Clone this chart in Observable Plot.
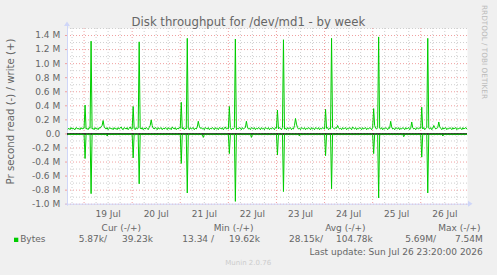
<!DOCTYPE html>
<html><head><meta charset="utf-8">
<script src="https://cdn.jsdelivr.net/npm/d3@7"></script>
<script src="https://cdn.jsdelivr.net/npm/@observablehq/plot@0.6"></script>
<style>
html,body{margin:0;padding:0;background:#f0f0f0;}
#chart{position:relative;width:497px;height:275px;overflow:hidden;background:#f0f0f0;}
#chart svg{position:absolute;left:0;top:0;}
</style></head><body><div id="chart"></div>
<script>
// ---- data (values in hundredths of M bytes/s, 30-minute steps) ----
const seriesStart = "2026-07-18T16:00:00Z";
const stepMinutes = 30;
const domainStart = "2026-07-18T15:44:00Z";
const domainEnd = "2026-07-26T23:20:00Z";

const writeCMB = [
  7,8,6,9,7,8,7,6,9,8,7,8,6,9,7,8,
  8,41,7,8,6,9,8,132, 7,8,6,9,7,8,6,9, 8,10,12,19,11,8,7,9, 6,8,9,7,8,6,9,7, 8,6,9,7,8,10,7,6, 9,8,7,9,6,8,10,7,
  7,39,8,6,9,7,8,131, 8,7,9,6,8,7,9,8, 6,9,12,20,12,8,7,9, 8,6,9,7,8,9,6,8, 7,9,8,6,9,7,8,6, 10,8,7,9,6,8,7,9,
  8,45,7,9,6,8,7,136, 8,6,9,7,8,9,6,8, 7,10,18,11,8,9,7,8, 6,9,8,7,9,6,8,7, 9,8,6,9,7,8,6,9, 8,7,9,6,8,10,7,8,
  7,39,9,6,8,7,9,135, 6,8,7,9,8,6,9,7, 8,9,18,10,7,8,6,9, 8,7,9,6,8,7,9,8, 6,9,7,8,6,9,8,7, 9,6,8,7,9,8,6,9,
  8,34,7,9,8,6,9,134, 7,8,6,9,7,8,9,6, 8,7,12,22,14,9,7,8, 6,9,8,7,9,6,8,7, 9,8,6,9,7,8,6,9, 8,7,9,6,8,7,9,8,
  7,35,8,9,6,8,7,136, 9,8,7,9,8,12,9,7, 8,6,9,7,8,9,6,8, 7,9,8,6,10,8,7,9, 6,8,7,9,8,6,9,7, 8,9,6,8,7,9,8,6,
  9,36,12,8,7,9,138,8, 7,9,6,8,7,9,8,6, 9,8,18,10,7,8,6,9, 8,7,9,6,8,7,9,8, 6,9,7,8,9,6,8,17, 9,7,8,6,9,8,7,9,
  8,38,7,9,6,8,9,136, 8,7,9,6,8,12,9,7, 8,9,17,10,8,6,9,7, 8,9,6,8,7,9,8,6, 9,7,8,9,6,8,7,9, 8,6,9,7,8,9,7
];
const readCMB = [
  1,0,1,1,0,1,1,0,1,1,0,1,1,0,1,1,
  1,35,1,0,1,1,0,85, 1,1,0,1,1,0,1,1, 0,1,1,0,1,1,0,3, 1,0,1,1,0,1,1,0, 1,1,0,1,1,0,1,1, 0,1,1,0,1,1,0,1,
  1,34,0,1,1,0,1,71, 1,0,1,1,0,1,1,0, 1,1,0,1,1,0,1,1, 0,1,1,0,1,1,0,1, 1,0,1,1,0,1,1,0, 1,1,0,1,1,0,1,1,
  0,42,1,1,0,1,1,84, 0,1,1,0,1,1,0,1, 1,0,1,1,0,1,1,5, 1,0,1,1,0,1,1,0, 1,1,0,1,1,0,1,1, 0,1,1,0,1,1,0,1,
  1,28,1,0,1,1,0,96, 1,1,0,1,1,0,1,1, 0,1,1,0,1,1,0,5, 1,1,0,1,1,0,1,1, 0,1,1,0,1,1,0,1, 1,0,1,1,0,1,1,0,
  1,30,0,1,1,0,1,82, 1,0,1,1,0,1,1,0, 1,1,0,1,1,0,1,3, 0,1,1,0,1,1,0,1, 1,0,1,1,0,1,1,0, 1,1,0,1,1,0,1,1,
  0,31,1,1,0,1,1,78, 0,1,1,0,1,1,0,1, 1,0,1,1,0,1,1,0, 1,1,0,1,1,0,1,1, 0,1,1,0,1,1,0,1, 1,0,1,1,0,1,1,0,
  1,28,1,0,1,1,91,1, 1,0,1,1,0,1,1,0, 1,1,0,1,1,0,1,1, 0,1,1,0,1,1,0,4, 1,0,1,1,0,1,1,0, 1,1,0,1,1,0,1,1,
  1,33,0,1,1,0,1,84, 1,0,1,1,0,1,1,0, 1,1,0,1,1,0,3,1, 0,1,1,0,1,1,0,1, 1,0,1,1,0,1,1,0, 1,1,0,1,1,0,1
];

const yTicksM = [-1.0,-0.8,-0.6,-0.4,-0.2,0.0,0.2,0.4,0.6,0.8,1.0,1.2,1.4];
const yTickLabels = ["-1.0 M","-0.8 M","-0.6 M","-0.4 M","-0.2 M","0.0","0.2 M","0.4 M","0.6 M","0.8 M","1.0 M","1.2 M","1.4 M"];
const yMinorM = [-0.9,-0.7,-0.5,-0.3,-0.1,0.1,0.3,0.5,0.7,0.9,1.1,1.3,1.5];
const dayStarts = ["2026-07-19","2026-07-20","2026-07-21","2026-07-22","2026-07-23","2026-07-24","2026-07-25","2026-07-26"];
const dayLabels = ["19 Jul","20 Jul","21 Jul","22 Jul","23 Jul","24 Jul","25 Jul","26 Jul"];

const legendHeaders = ["Cur (-/+)","Min (-/+)","Avg (-/+)","Max (-/+)"];
const legendName = "Bytes";
const legendValues = ["5.87k/","39.23k","13.34 /","19.62k","28.15k/","104.78k","5.69M/","7.54M"];
const titleText = "Disk throughput for /dev/md1 - by week";
const yAxisTitle = "Pr second read (-) / write (+)";
const lastUpdate = "Last update: Sun Jul 26 23:20:00 2026";
const footer = "Munin 2.0.76";
const watermark = "RRDTOOL / TOBI OETIKER";

// ---- build ----
const t0 = new Date(seriesStart).getTime();
const rows = writeCMB.map((w, i) => ({
  t: new Date(t0 + i * stepMinutes * 60000),
  w: w / 100,
  r: -(readCMB[i] ?? 0) / 100
}));
const dayDates = dayStarts.map(d => new Date(d + "T00:00:00Z"));
const noonDates = dayDates.map(d => new Date(d.getTime() + 12 * 3600000));
const x0 = new Date(domainStart), x1 = new Date(domainEnd);
const minorX = d3.utcHour.every(6).range(x0, x1).filter(d => d.getUTCHours() !== 0);
const yLabelMap = new Map(yTicksM.map((v, i) => [v.toFixed(1), yTickLabels[i]]));
const xLabelMap = new Map(noonDates.map((d, i) => [+d, dayLabels[i]]));

const GRID = "#cfcfcf", MGRID = "#f0a0a0", AXIS = "#CFD6F8", GREEN = "#00cc00";

const chart = Plot.plot({
  width: 497, height: 275,
  marginLeft: 67, marginRight: 30, marginTop: 28, marginBottom: 71.3,
  style: {fontFamily: "DejaVu Sans", fontSize: "9px", color: "#666", background: "transparent", overflow: "visible"},
  x: {type: "utc", domain: [x0, x1]},
  y: {domain: [-1.0, 1.5]},
  marks: [
    Plot.frame({fill: "white", stroke: null}),
    Plot.ruleX(minorX, {stroke: GRID, strokeDasharray: "1,2"}),
    Plot.ruleY(yMinorM, {stroke: GRID, strokeDasharray: "1,2"}),
    Plot.ruleX(dayDates, {stroke: MGRID, strokeDasharray: "1,2"}),
    Plot.ruleY(yTicksM, {stroke: MGRID, strokeDasharray: "1,2"}),
    Plot.axisY({ticks: yTicksM, tickFormat: d => yLabelMap.get((+d).toFixed(1)), tickSize: 2, tickPadding: 5.3, stroke: MGRID, label: null, fill: "#666"}),
    Plot.axisX({ticks: noonDates, tickFormat: d => xLabelMap.get(+d), tickSize: 0, tickPadding: 6, label: null, fill: "#666"}),
    Plot.ruleY([-1.0], {stroke: AXIS, insetLeft: -2, insetRight: -1}),
    Plot.ruleX([x0], {stroke: AXIS, insetTop: -3, insetBottom: -2}),
    Plot.ruleY([0], {stroke: "black", strokeWidth: 1.5}),
    Plot.line(rows, {x: "t", y: "w", stroke: GREEN, strokeWidth: 1}),
    Plot.line(rows, {x: "t", y: "r", stroke: GREEN, strokeWidth: 1})
  ]
});
document.getElementById("chart").appendChild(chart);

const svg = d3.select(chart);
const sx = chart.scale("x"), sy = chart.scale("y");
const L = sx.apply(x0), R = sx.apply(x1), B = sy.apply(-1.0), T = sy.apply(1.5);
// axis arrows
svg.append("path").attr("d", `M${R+1},${B-3}L${R+5.5},${B}L${R+1},${B+3}Z`).attr("fill", AXIS);
svg.append("path").attr("d", `M${L-3},${T-2}L${L},${T-6.5}L${L+3},${T-2}Z`).attr("fill", AXIS);

const txt = (s, x, y, opts = {}) => {
  const t = svg.append("text").text(s).attr("x", x).attr("y", y)
    .attr("font-family", "DejaVu Sans").attr("font-size", opts.size || 9)
    .attr("fill", opts.fill || "#666").attr("text-anchor", opts.anchor || "start");
  if (opts.transform) t.attr("transform", opts.transform);
  return t;
};
txt(titleText, 248.4, 26, {size: 11.7, anchor: "middle"});
txt(yAxisTitle, 0, 0, {size: 10.2, anchor: "middle", transform: "translate(14,111.5) rotate(-90)"});
txt(watermark, 0, 0, {size: 7.3, fill: "#bbb", transform: "translate(482.3,5) rotate(90)"});

const headerEnds = [141, 253.5, 365.5, 480.5];
legendHeaders.forEach((h, i) => txt(h, headerEnds[i], 230.5, {anchor: "end"}));
svg.append("rect").attr("x", 14).attr("y", 237.7).attr("width", 4.3).attr("height", 4.3).attr("fill", GREEN);
txt(legendName, 20.2, 242);
const valueEnds = [107, 153, 214, 260, 323, 372.8, 436, 482.8];
legendValues.forEach((v, i) => txt(v, valueEnds[i], 242, {anchor: "end"}));
txt(lastUpdate, 482.8, 254.5, {anchor: "end"});
txt(footer, 248.2, 265.3, {size: 7, fill: "#ccc", anchor: "middle"});
</script>
</body></html>
